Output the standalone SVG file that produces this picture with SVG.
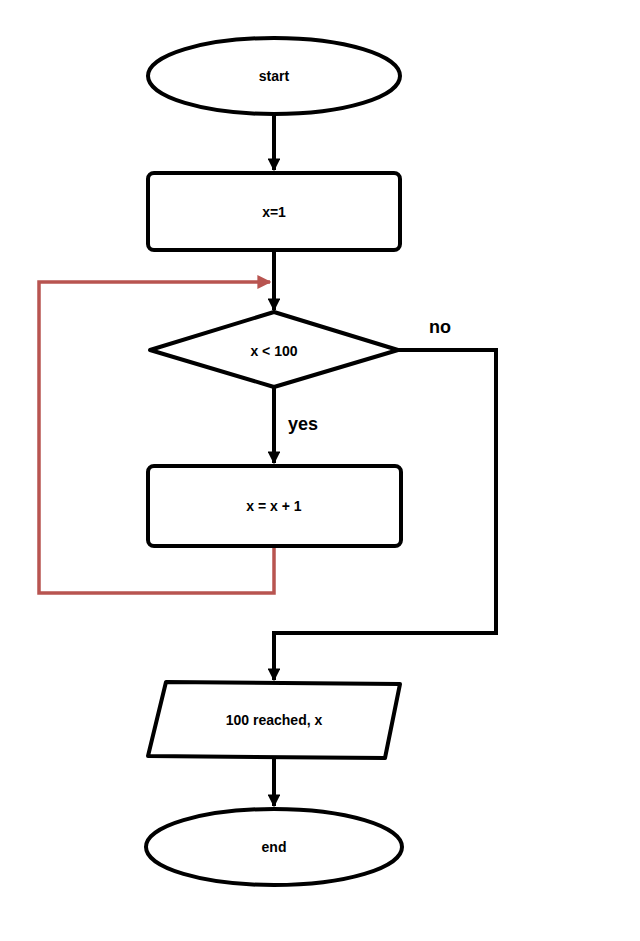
<svg xmlns="http://www.w3.org/2000/svg" width="640" height="941" viewBox="0 0 640 941">
<style>
.shape{fill:#fff;stroke:#000;stroke-width:4;stroke-linejoin:round}
.lbl{font-family:"Liberation Sans",Arial,sans-serif;font-weight:bold;font-size:14px;fill:#000;text-anchor:middle;dominant-baseline:middle}
.big{font-size:18px}
.conn{fill:none;stroke:#000;stroke-width:4;stroke-linejoin:miter}
.red{fill:none;stroke:#b85450;stroke-width:3.5}
</style>
<defs>
<marker id="ah" viewBox="0 0 10 10" refX="9" refY="5" markerWidth="3.2" markerHeight="3.2" orient="auto" markerUnits="strokeWidth"><path d="M0,0 L10,5 L0,10 z" fill="#000"/></marker>
<marker id="ahr" viewBox="0 0 10 10" refX="9" refY="5" markerWidth="4" markerHeight="4" orient="auto" markerUnits="strokeWidth"><path d="M0,0 L10,5 L0,10 z" fill="#b85450"/></marker>
</defs>
<rect width="640" height="941" fill="#fff"/>
<g id="connectors">
<path class="conn" d="M274,116 L274,170" marker-end="url(#ah)"/>
<path class="conn" d="M274,251 L274,310" marker-end="url(#ah)"/>
<path class="conn" d="M274,388 L274,463" marker-end="url(#ah)"/>
<path class="conn" d="M398,350 L496,350 L496,633 L274,633 L274,680" marker-end="url(#ah)"/>
<path class="conn" d="M274,758 L274,806" marker-end="url(#ah)"/>
<path class="red" d="M274,546 L274,593 L39,593 L39,282 L270,282" marker-end="url(#ahr)"/>
<text class="lbl big" x="303" y="425">yes</text>
<text class="lbl big" x="440" y="328">no</text>
</g>
<g id="start">
<ellipse class="shape" cx="274" cy="76" rx="126" ry="38"/>
<text class="lbl" x="274" y="77">start</text>
</g>
<g id="init">
<rect class="shape" x="148" y="173" width="252" height="77" rx="6"/>
<text class="lbl" x="274" y="213">x=1</text>
</g>
<g id="cond">
<polygon class="shape" points="274,312 398,350 274,387 150,350"/>
<text class="lbl" x="274" y="352">x &lt; 100</text>
</g>
<g id="inc">
<rect class="shape" x="148" y="466" width="253" height="80" rx="6"/>
<text class="lbl" x="274" y="507">x = x + 1</text>
</g>
<g id="output">
<polygon class="shape" points="166,682 400,684 385,758 148,756"/>
<text class="lbl" x="274" y="721">100 reached, x</text>
</g>
<g id="end">
<ellipse class="shape" cx="274" cy="847" rx="128" ry="38"/>
<text class="lbl" x="274" y="848">end</text>
</g>
</svg>
